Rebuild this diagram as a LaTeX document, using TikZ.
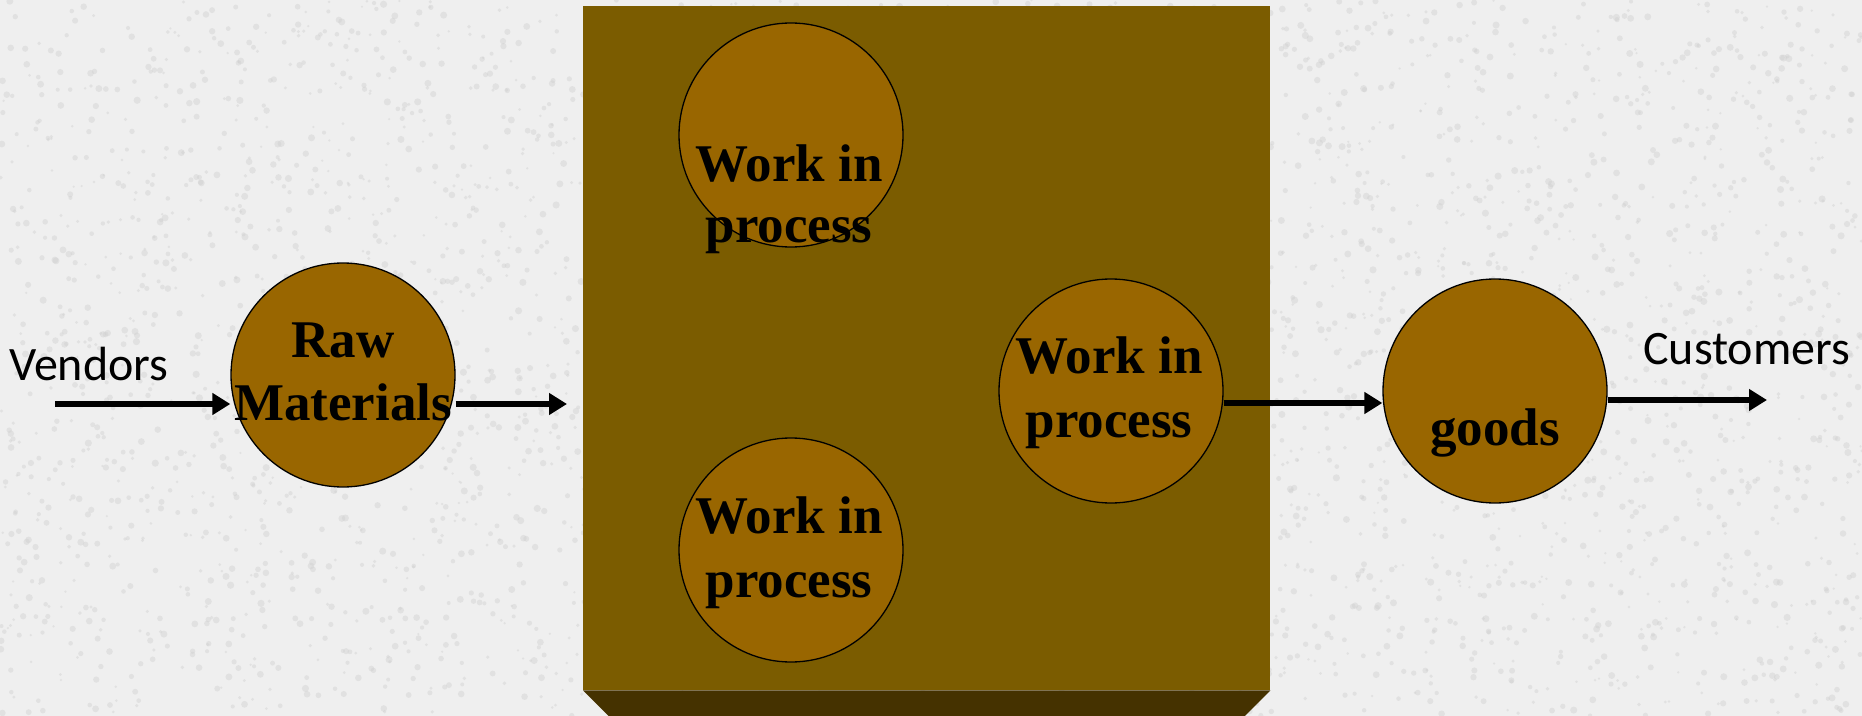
\documentclass[tikz,border=0pt]{standalone}
\usepackage{fontspec}
\setmainfont{Liberation Serif}
\newfontfamily\sidefont{Carlito}
\usetikzlibrary{arrows.meta}

\definecolor{paper}{RGB}{239,239,239}
\definecolor{speck}{RGB}{208,208,208}
\definecolor{boxface}{RGB}{123,92,0}
\definecolor{boxbevel}{RGB}{69,50,0}
\definecolor{stockfill}{RGB}{153,102,0}

\tikzset{
  stock/.style={circle, draw=black, line width=1.3bp, fill=stockfill,
    minimum size=224bp, inner sep=0pt},
  lbl/.style={font=\bfseries\fontsize{53bp}{63bp}\selectfont, anchor=base, inner sep=0pt},
  side/.style={font=\sidefont\fontsize{48bp}{57bp}\selectfont, anchor=base west, inner sep=0pt},
  flow/.style={line width=6.5bp, -{Triangle[length=18bp,width=21bp]}},
}

\begin{document}
\begin{tikzpicture}[x=1bp, y=-1bp]
  % paper background with a light speckle
  \useasboundingbox (0,0) rectangle (1862,716);
  \fill[paper] (0,0) rectangle (1862,716);
  \pgfmathsetseed{11}
  \foreach \k in {1,...,4400} {
    \pgfmathsetmacro\px{rnd*1862}
    \pgfmathsetmacro\py{rnd*716}
    \pgfmathsetmacro\pr{1.2+rnd*2.4}
    \fill[speck, opacity=0.45] (\px,\py) circle (\pr bp);
  }

  % production block with its bevelled lower edge
  \node[fill=boxface, minimum width=687bp, minimum height=684bp, inner sep=0pt,
        anchor=north west] (box) at (583,6) {};
  \fill[boxbevel] (box.south west) -- (box.south east) -- ++(-26,26)
        -- ([xshift=26bp, yshift=-26bp]box.south west) -- cycle;

  % inventory stocks
  \node[stock] (raw) at (343,375) {};
  \node[stock] (wt)  at (791,135) {};
  \node[stock] (wb)  at (791,550) {};
  \node[stock] (wr)  at (1111,391) {};
  \node[stock] (gd)  at (1495,391) {};

  % stock labels
  \node[lbl] (raw1) at (343,357) {Raw};
  \node[lbl] (raw2) at (343,420) {Materials};
  \node[lbl] (wt1)  at (789,182) {Work in};
  \node[lbl] (wt2)  at (789,242) {process};
  \node[lbl] (wb1)  at (789,533) {Work in};
  \node[lbl] (wb2)  at (789,597) {process};
  \node[lbl] (wr1)  at (1109,373) {Work in};
  \node[lbl] (wr2)  at (1109,437) {process};
  \node[lbl] (gd1)  at (1495,445) {goods};

  % outside parties
  \node[side] (vend) at (9,380) {Vendors};
  \node[side] (cust) at (1643,364) {Customers};

  % material flow
  \coordinate (vin)  at (55,404);
  \coordinate (bin)  at (567,404);
  \coordinate (lvlA) at (0,403);
  \coordinate (lvlB) at (0,400);
  \coordinate (cout) at (1767,400);
  \draw[flow] (vin) -- (vin -| raw.west);
  \draw[flow] (raw.east |- vin) -- (bin);
  \draw[flow] (wr.east |- lvlA) -- (gd.west |- lvlA);
  \draw[flow] (gd.east |- lvlB) -- (cout);
\end{tikzpicture}
\end{document}
